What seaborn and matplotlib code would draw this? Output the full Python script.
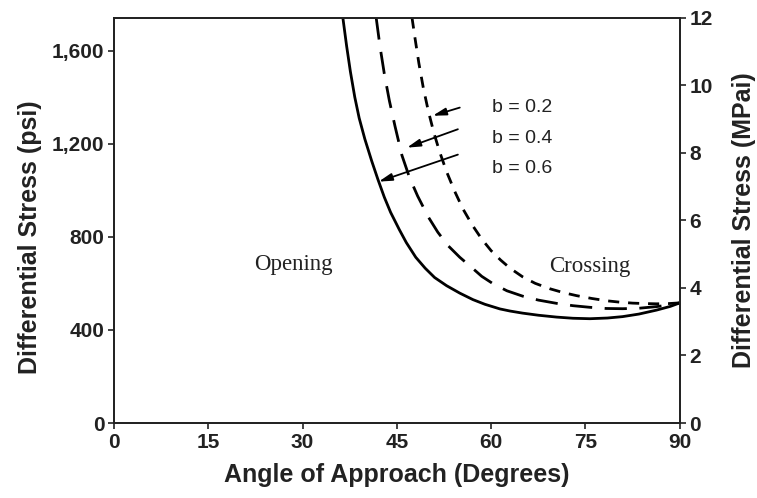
import matplotlib
matplotlib.use("Agg")
import matplotlib.pyplot as plt
import seaborn as sns
import pandas as pd

# ---- data ----
deg_b06 = [36.4, 37.0, 37.6, 38.3, 39.0, 39.9, 41.0, 42.0, 43.0, 44.0, 45.4, 46.5, 48.0, 49.5, 51.0,
           52.9, 55.0, 57.1, 59.0, 61.4, 63.0, 65.0, 67.5, 70.4, 73.0, 75.7, 78.5, 80.9, 83.5, 86.3, 88.5, 90.0]
psi_b06 = [1742, 1620, 1510, 1400, 1310, 1220, 1125, 1045, 970, 905, 830, 775, 712, 665, 625,
           590, 558, 530, 510, 490, 481, 472, 463, 455, 450, 448, 451, 457, 468, 485, 501, 516]

deg_b04 = [41.7, 42.3, 43.0, 43.8, 44.7, 45.8, 47.0, 48.3, 50.0, 51.5, 53.1, 55.0, 56.9, 58.5, 60.2,
           62.5, 65.0, 67.5, 70.4, 73.0, 75.7, 78.3, 80.9, 83.5, 86.3, 88.3, 90.0]
psi_b04 = [1742, 1620, 1500, 1385, 1275, 1150, 1055, 975, 885, 820, 763, 712, 668, 630, 600,
           568, 545, 528, 514, 504, 497, 492, 491, 493, 500, 507, 516]

deg_b02 = [47.4, 47.9, 48.5, 49.2, 50.0, 50.9, 51.8, 52.9, 54.2, 55.5, 57.0, 58.5, 60.0, 61.5, 63.0,
           65.0, 67.0, 69.3, 71.5, 73.6, 76.0, 78.4, 80.5, 82.5, 84.5, 86.3, 88.2, 90.0]
psi_b02 = [1742, 1650, 1545, 1440, 1340, 1245, 1165, 1080, 995, 920, 850, 790, 740, 700, 665,
           628, 600, 577, 560, 547, 535, 525, 519, 515, 513, 512, 513, 516]

b_labels = ["b = 0.2", "b = 0.4", "b = 0.6"]
label_pos = [(60.1, 1355), (60.1, 1221), (60.1, 1092)]
arrow_start = [(55.0, 1355), (54.7, 1262), (54.7, 1153)]
arrow_tip = [(50.7, 1320), (46.6, 1183), (42.1, 1037)]

region_labels = ["Opening", "Crossing"]
region_pos = [(28.6, 680), (75.7, 671)]

x_ticks = [0, 15, 30, 45, 60, 75, 90]
y_ticks = [0, 400, 800, 1200, 1600]
y_ticklabels = ["0", "400", "800", "1,200", "1,600"]
mpa_ticks = [0, 2, 4, 6, 8, 10, 12]

# ---- build table ----
df = pd.concat([
    pd.DataFrame({"deg": deg_b02, "psi": psi_b02, "b": "0.2"}),
    pd.DataFrame({"deg": deg_b04, "psi": psi_b04, "b": "0.4"}),
    pd.DataFrame({"deg": deg_b06, "psi": psi_b06, "b": "0.6"}),
])

sns.set_style("ticks")
plt.rcParams["font.family"] = ["Liberation Sans", "DejaVu Sans"]
plt.rcParams["lines.solid_joinstyle"] = "round"
plt.rcParams["lines.dash_joinstyle"] = "round"

fig = plt.figure(figsize=(7.57, 4.98), dpi=100)
ax = fig.add_axes([0.1506, 0.1506, 0.898 - 0.1506, 0.9639 - 0.1506])

sns.lineplot(data=df, x="deg", y="psi", style="b", sort=False, estimator=None,
             dashes={"0.6": "", "0.4": (8, 4.5), "0.2": (4, 3.2)},
             color="black", linewidth=2.0, legend=False, ax=ax)

ax.set_xlim(0, 90)
ax.set_ylim(0, 1740)
ax.set_xticks(x_ticks)
ax.set_yticks(y_ticks)
ax.set_yticklabels(y_ticklabels)

for lab in ax.get_xticklabels() + ax.get_yticklabels():
    lab.set_fontsize(15)
    lab.set_fontweight("bold")
    lab.set_color("#222222")

ax.set_xlabel("Angle of Approach (Degrees)", fontsize=18, fontweight="bold", labelpad=8, color="#222222")
ax.set_ylabel("Differential Stress (psi)", fontsize=18, fontweight="bold", color="#222222")
ax.yaxis.set_label_coords(-0.127, 0.459)

for s in ax.spines.values():
    s.set_visible(True)
    s.set_linewidth(1.3)
    s.set_color("#222222")
ax.tick_params(axis="both", direction="out", length=4, width=1.2, color="#222222", pad=3)

ax2 = ax.twinx()
ax2.set_ylim(0, 12)
ax2.set_yticks(mpa_ticks)
for lab in ax2.get_yticklabels():
    lab.set_fontsize(15)
    lab.set_fontweight("bold")
    lab.set_color("#222222")
ax2.set_ylabel("Differential Stress (MPai)", fontsize=18, fontweight="bold", labelpad=14, color="#222222")
ax2.tick_params(axis="y", direction="out", length=4, width=1.2, color="#222222", pad=3)
for s in ax2.spines.values():
    s.set_linewidth(1.3)
    s.set_color("#222222")

# annotations
for txt, pos, st, tp in zip(b_labels, label_pos, arrow_start, arrow_tip):
    ax.text(pos[0], pos[1], txt, fontsize=14, ha="left", va="center", color="#222222")
    ax.annotate("", xy=tp, xytext=st,
                arrowprops=dict(arrowstyle="-|>,head_length=0.8,head_width=0.22",
                                color="black", lw=1.3, shrinkA=0, shrinkB=0))

for txt, pos in zip(region_labels, region_pos):
    ax.text(pos[0], pos[1], txt, fontsize=16.5, ha="center", va="center",
            family=["Liberation Serif", "DejaVu Serif"], color="#222222")

fig.savefig("out.png", dpi=100)
